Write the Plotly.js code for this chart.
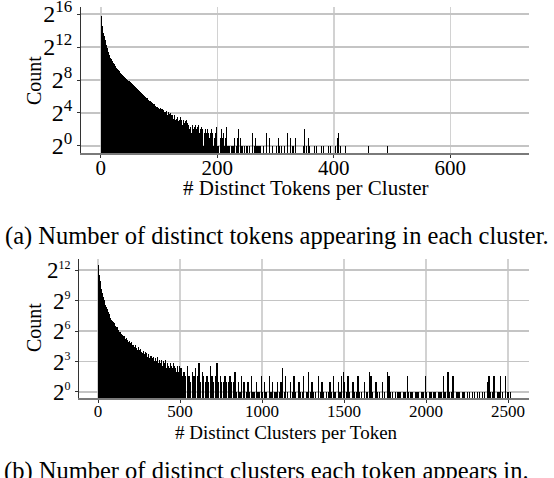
<!DOCTYPE html>
<html>
<head>
<meta charset="utf-8">
<script src="https://cdn.plot.ly/plotly-3.0.1.min.js"></script>
<style>
  html, body { margin: 0; padding: 0; background: #fff; }
  #chart { width: 554px; height: 478px; }
</style>
</head>
<body>
<div id="chart"></div>
<script>
// (a) number of clusters having N distinct tokens, N = 1..300
var tokensPerClusterCounts = [
  57000, 33000, 23500, 17600, 13400, 10200, 8500, 7100, 5800, 4700,
  3900, 3200, 2750, 2350, 2050, 1850, 1650, 1500, 1380, 1260,
  1160, 1080, 990, 920, 840, 790, 730, 680, 640, 595,
  560, 530, 500, 470, 445, 420, 400, 380, 355, 340,
  325, 305, 295, 280, 270, 262, 255, 240, 232, 222,
  210, 205, 196, 188, 180, 172, 165, 158, 145, 138,
  132, 125, 121, 113, 110, 102, 98, 95, 88, 84,
  80, 76, 73, 68, 67, 61, 62, 57, 52, 56,
  50, 49, 46, 44, 45, 40, 39, 37, 36, 34,
  33, 35, 30, 29, 31, 27, 26, 28, 24, 25,
  23, 25, 21, 22, 19, 22, 18, 20, 17, 19,
  18, 15, 19, 14, 16, 17, 13, 15, 12, 16,
  13, 11, 14, 12, 10, 13, 11, 9, 12, 10,
  9, 11, 8, 10, 9, 7, 11, 8, 9, 6,
  8, 9, 6, 7, 8, 5, 9, 6, 7, 5,
  6, 4, 7, 5, 8, 3, 6, 5, 4, 7,
  5, 3, 6, 4, 2, 5, 4, 6, 3, 4,
  4, 2, 5, 3, 4, 1, 5, 3, 2, 4,
  3, 2, 4, 1, 3, 5, 2, 3, 1, 4,
  2, 3, 1, 4, 2, 1, 3, 2, 5, 1,
  2, 1, 3, 0, 2, 1, 4, 1, 2, 0,
  3, 1, 1, 2, 0, 5, 1, 2, 1, 0,
  1, 2, 0, 1, 3, 1, 0, 1, 2, 1,
  0, 1, 1, 0, 2, 4, 1, 0, 1, 2,
  1, 0, 1, 1, 0, 2, 1, 0, 1, 1,
  0, 1, 2, 0, 1, 1, 0, 1, 0, 3,
  1, 0, 1, 1, 0, 2, 1, 0, 1, 0,
  1, 1, 0, 1, 2, 0, 1, 0, 1, 1,
  0, 1, 0, 3, 1, 0, 1, 0, 1, 2,
  0, 1, 0, 1, 1, 0, 2, 0, 1, 0
];
// (a) sparse tail beyond 300 tokens
var tokensTailX = [302, 305, 307, 310, 313, 315, 318, 320, 323, 326, 329, 331, 334, 337, 340,
  342, 345, 348, 350, 353, 356, 358, 361, 364, 367, 370, 373, 376, 379, 382, 385, 388,
  391, 394, 397, 400, 403, 406, 408, 411, 420, 426, 438, 445, 459, 471, 479, 488, 492,
  500, 519, 615, 697];
var tokensTailCounts = [1, 2, 1, 1, 2, 1, 1, 3, 1, 2, 1, 1, 2, 1, 1,
  2, 1, 1, 4, 1, 2, 1, 1, 3, 1, 1, 2, 1, 1, 1, 2, 1,
  1, 1, 2, 1, 1, 2, 3, 1, 1, 1, 1, 1, 1, 1, 1, 1, 1,
  1, 1, 1, 1];

// (b) tokens per cluster-count, 5-wide bins from 1 to 500
var clustersPerTokenHead = [
  5800, 3000, 2000, 1500, 1150, 850, 640, 520, 470, 380,
  330, 280, 230, 200, 185, 160, 140, 128, 115, 108,
  98, 90, 86, 82, 70, 66, 62, 58, 52, 50,
  47, 44, 46, 38, 40, 34, 36, 30, 32, 28,
  31, 25, 27, 24, 22, 25, 20, 22, 18, 21,
  17, 19, 15, 18, 14, 16, 13, 15, 12, 14,
  11, 13, 10, 12, 9, 12, 10, 11, 8, 10,
  9, 8, 11, 7, 9, 8, 7, 9, 6, 8,
  7, 6, 9, 5, 7, 6, 8, 5, 7, 6,
  5, 7, 4, 6, 5, 4, 6, 5, 4, 6
];
// (b) 10-wide bins from 500 to 2520
var clustersPerTokenTail = [
  5, 3, 4, 3, 6, 3, 2, 4, 3, 5,
  3, 7, 2, 4, 3, 2, 3, 2, 6, 3,
  2, 3, 7, 2, 3, 2, 2, 3, 2, 2,
  3, 2, 2, 4, 1, 2, 1, 3, 2, 2,
  1, 2, 1, 3, 1, 1, 2, 1, 1, 3,
  1, 2, 1, 0, 3, 1, 2, 1, 1, 2,
  1, 2, 5, 1, 3, 1, 0, 2, 1, 3,
  1, 0, 2, 1, 1, 3, 0, 1, 4, 1,
  2, 1, 1, 0, 3, 1, 2, 1, 0, 1,
  1, 2, 1, 3, 1, 0, 2, 1, 3, 4,
  2, 1, 3, 1, 0, 2, 1, 1, 3, 1,
  1, 0, 2, 1, 1, 4, 3, 1, 0, 2,
  1, 1, 0, 2, 1, 0, 4, 3, 1, 1,
  0, 1, 1, 1, 1, 0, 1, 1, 3, 1,
  1, 1, 0, 1, 1, 1, 0, 1, 1, 3,
  1, 0, 1, 1, 1, 1, 0, 1, 1, 1,
  3, 1, 0, 4, 1, 1, 3, 0, 1, 1,
  1, 0, 1, 1, 0, 1, 1, 0, 1, 1,
  0, 1, 1, 0, 1, 1, 0, 2, 3, 1,
  1, 3, 0, 1, 1, 3, 1, 0, 3, 1,
  1, 1
];

var yTickVals1 = [1, 16, 256, 4096, 65536];
var yExp1 = ['0', '4', '8', '12', '16'];
var yTickVals2 = [1, 8, 64, 512, 4096];
var yExp2 = ['0', '3', '6', '9', '12'];
var xTickVals1 = [0, 200, 400, 600];
var xTickVals2 = [0, 500, 1000, 1500, 2000, 2500];

function powerLabels(exps, supSize) {
  return exps.map(function(e) {
    return '2<sup><span style="font-size:' + supSize + 'px">' + e + '</span></sup>';
  });
}

// build bar traces, dropping empty bins
var ax = [], ay = [];
tokensPerClusterCounts.forEach(function(c, i) { if (c > 0) { ax.push(i + 1); ay.push(c); } });
tokensTailX.forEach(function(v, i) { ax.push(v); ay.push(tokensTailCounts[i]); });

var bx = [], by = [], bw = [];
clustersPerTokenHead.forEach(function(c, i) { if (c > 0) { bx.push(5 * i + 3); by.push(c); bw.push(5); } });
clustersPerTokenTail.forEach(function(c, i) { if (c > 0) { bx.push(500 + 10 * i + 5); by.push(c); bw.push(8); } });

var traceA = {
  x: ax, y: ay, type: 'bar', width: 1,
  marker: { color: '#000', line: { width: 0 } },
  xaxis: 'x', yaxis: 'y', hoverinfo: 'skip'
};
var traceB = {
  x: bx, y: by, type: 'bar', width: bw,
  marker: { color: '#000', line: { width: 0 } },
  xaxis: 'x2', yaxis: 'y2', hoverinfo: 'skip'
};

var W = 554, H = 478;
var serif = 'Liberation Serif, Times New Roman, serif';
function px(x) { return x / W; }
function py(y) { return 1 - y / H; }

var xCommon = {
  showgrid: true, gridcolor: '#d2d2d2', gridwidth: 1.5,
  showline: true, linecolor: '#7a7a7a', linewidth: 2, layer: 'below traces',
  ticks: 'outside', ticklen: 3, tickcolor: '#333', zeroline: false,
  automargin: false, ticklabeloverflow: 'allow'
};
var yCommon = {
  type: 'log', showgrid: true, gridcolor: '#c4c4c4', gridwidth: 1.5,
  showline: true, linecolor: '#333', linewidth: 1,
  ticks: 'outside', ticklen: 3, tickcolor: '#333', zeroline: false,
  automargin: false, ticklabeloverflow: 'allow'
};

var layout = {
  width: W, height: H,
  margin: { l: 0, r: 0, t: 0, b: 0 },
  paper_bgcolor: '#fff', plot_bgcolor: '#fff',
  showlegend: false, bargap: 0,
  font: { family: serif, color: '#000' },
  xaxis: Object.assign({}, xCommon, {
    domain: [px(81), px(529)], range: [-34, 735], tickvals: xTickVals1, anchor: 'y',
    tickfont: { family: serif, size: 21, color: '#000' }, ticklabelstandoff: -8
  }),
  yaxis: Object.assign({}, yCommon, {
    domain: [py(153), py(7)], range: [-0.85 * Math.LOG10E * Math.LN2, 16.85 * Math.LOG10E * Math.LN2],
    tickvals: yTickVals1, ticktext: powerLabels(yExp1, 17), anchor: 'x',
    tickfont: { family: serif, size: 24, color: '#000' }
  }),
  xaxis2: Object.assign({}, xCommon, {
    domain: [px(79), px(529)], range: [-116, 2628], tickvals: xTickVals2, anchor: 'y2',
    tickfont: { family: serif, size: 17, color: '#000' }, ticklabelstandoff: -6
  }),
  yaxis2: Object.assign({}, yCommon, {
    domain: [py(398), py(259)], range: [-0.6 * Math.LOG10E * Math.LN2, 13.1 * Math.LOG10E * Math.LN2],
    tickvals: yTickVals2, ticktext: powerLabels(yExp2, 12), anchor: 'x2',
    tickfont: { family: serif, size: 23, color: '#000' }
  }),
  annotations: [
    { text: 'Count', x: px(34), y: py(81), textangle: -90, size: 20 },
    { text: '# Distinct Tokens per Cluster', x: px(305), y: py(188), size: 21 },
    { text: '(a) Number of distinct tokens appearing in each cluster.', x: px(277), y: py(236), size: 24.5 },
    { text: 'Count', x: px(34), y: py(328), textangle: -90, size: 20 },
    { text: '# Distinct Clusters per Token', x: px(286), y: py(432), size: 19 },
    { text: '(b) Number of distinct clusters each token appears in.', x: px(266), y: py(471), size: 24.5 }
  ].map(function(a) {
    return {
      text: a.text, x: a.x, y: a.y, xref: 'paper', yref: 'paper',
      xanchor: 'center', yanchor: 'middle', showarrow: false, textangle: a.textangle || 0,
      font: { family: serif, size: a.size, color: '#000' }
    };
  })
};

Plotly.newPlot('chart', [traceA, traceB], layout, { displayModeBar: false, staticPlot: true });
</script>
</body>
</html>
